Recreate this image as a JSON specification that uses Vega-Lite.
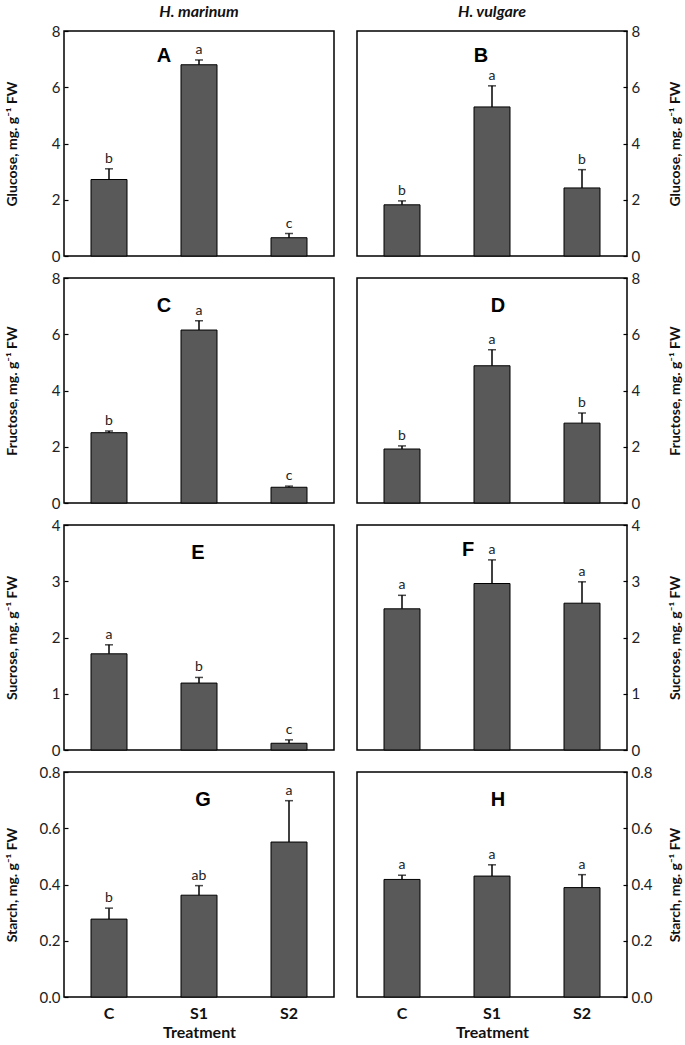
{
  "$schema": "https://vega.github.io/schema/vega-lite/v6.json",
  "padding": {"left": 4, "top": 3, "right": 2, "bottom": 2},
  "background": "white",
  "data": {"values": [
    {"panel": "A", "species": "H. marinum", "sugar": "Glucose", "treatment": "C", "mean": 2.72, "upper": 3.10, "letter": "b"},
    {"panel": "A", "species": "H. marinum", "sugar": "Glucose", "treatment": "S1", "mean": 6.80, "upper": 6.97, "letter": "a"},
    {"panel": "A", "species": "H. marinum", "sugar": "Glucose", "treatment": "S2", "mean": 0.65, "upper": 0.80, "letter": "c"},
    {"panel": "B", "species": "H. vulgare", "sugar": "Glucose", "treatment": "C", "mean": 1.82, "upper": 1.96, "letter": "b"},
    {"panel": "B", "species": "H. vulgare", "sugar": "Glucose", "treatment": "S1", "mean": 5.30, "upper": 6.05, "letter": "a"},
    {"panel": "B", "species": "H. vulgare", "sugar": "Glucose", "treatment": "S2", "mean": 2.42, "upper": 3.07, "letter": "b"},
    {"panel": "C", "species": "H. marinum", "sugar": "Fructose", "treatment": "C", "mean": 2.50, "upper": 2.56, "letter": "b"},
    {"panel": "C", "species": "H. marinum", "sugar": "Fructose", "treatment": "S1", "mean": 6.15, "upper": 6.48, "letter": "a"},
    {"panel": "C", "species": "H. marinum", "sugar": "Fructose", "treatment": "S2", "mean": 0.56, "upper": 0.60, "letter": "c"},
    {"panel": "D", "species": "H. vulgare", "sugar": "Fructose", "treatment": "C", "mean": 1.92, "upper": 2.03, "letter": "b"},
    {"panel": "D", "species": "H. vulgare", "sugar": "Fructose", "treatment": "S1", "mean": 4.88, "upper": 5.45, "letter": "a"},
    {"panel": "D", "species": "H. vulgare", "sugar": "Fructose", "treatment": "S2", "mean": 2.84, "upper": 3.20, "letter": "b"},
    {"panel": "E", "species": "H. marinum", "sugar": "Sucrose", "treatment": "C", "mean": 1.71, "upper": 1.87, "letter": "a"},
    {"panel": "E", "species": "H. marinum", "sugar": "Sucrose", "treatment": "S1", "mean": 1.19, "upper": 1.29, "letter": "b"},
    {"panel": "E", "species": "H. marinum", "sugar": "Sucrose", "treatment": "S2", "mean": 0.12, "upper": 0.18, "letter": "c"},
    {"panel": "F", "species": "H. vulgare", "sugar": "Sucrose", "treatment": "C", "mean": 2.51, "upper": 2.75, "letter": "a"},
    {"panel": "F", "species": "H. vulgare", "sugar": "Sucrose", "treatment": "S1", "mean": 2.96, "upper": 3.38, "letter": "a"},
    {"panel": "F", "species": "H. vulgare", "sugar": "Sucrose", "treatment": "S2", "mean": 2.61, "upper": 2.99, "letter": "a"},
    {"panel": "G", "species": "H. marinum", "sugar": "Starch", "treatment": "C", "mean": 0.277, "upper": 0.316, "letter": "b"},
    {"panel": "G", "species": "H. marinum", "sugar": "Starch", "treatment": "S1", "mean": 0.362, "upper": 0.396, "letter": "ab"},
    {"panel": "G", "species": "H. marinum", "sugar": "Starch", "treatment": "S2", "mean": 0.551, "upper": 0.698, "letter": "a"},
    {"panel": "H", "species": "H. vulgare", "sugar": "Starch", "treatment": "C", "mean": 0.418, "upper": 0.433, "letter": "a"},
    {"panel": "H", "species": "H. vulgare", "sugar": "Starch", "treatment": "S1", "mean": 0.430, "upper": 0.470, "letter": "a"},
    {"panel": "H", "species": "H. vulgare", "sugar": "Starch", "treatment": "S2", "mean": 0.389, "upper": 0.435, "letter": "a"}
  ]},
  "columns": 2,
  "spacing": {"row": 22, "column": 23},
  "bounds": "flush",
  "concat": [
    {
      "width": 270, "height": 225,
      "title": {"text": "H. marinum"},
      "transform": [{"filter": "datum.panel === 'A'"}],
      "encoding": {"x": {"field": "treatment", "type": "nominal", "sort": ["C", "S1", "S2"], "scale": {"paddingInner": 0.6, "paddingOuter": 0.3}, "axis": null}},
      "layer": [
        {"mark": {"type": "bar", "fill": "#595959", "stroke": "#000", "strokeWidth": 1}, "encoding": {"y": {"field": "mean", "type": "quantitative", "scale": {"domain": [0, 8], "nice": false}, "axis": {"orient": "left", "values": [0, 2, 4, 6, 8], "format": "d", "title": "Glucose, mg. g⁻¹ FW", "titleX": -45}}}},
        {"mark": {"type": "rule", "color": "#000", "strokeWidth": 1.5}, "encoding": {"y": {"field": "mean", "type": "quantitative"}, "y2": {"field": "upper"}}},
        {"mark": {"type": "tick", "color": "#000", "thickness": 1.5, "size": 8}, "encoding": {"y": {"field": "upper", "type": "quantitative"}}},
        {"mark": {"type": "text", "baseline": "bottom", "dy": -3, "fontSize": 14, "fill": "#222"}, "encoding": {"y": {"field": "upper", "type": "quantitative"}, "text": {"field": "letter"}}},
        {"transform": [{"filter": "datum.treatment === 'C'"}], "mark": {"type": "text", "font": "Liberation Sans", "fontSize": 20, "fontWeight": "bold", "fill": "#000", "baseline": "middle", "dx": -35}, "encoding": {"x": {"datum": "S1"}, "y": {"datum": 7.1}, "text": {"value": "A"}}}
      ]
    },
    {
      "width": 270, "height": 225,
      "title": {"text": "H. vulgare"},
      "transform": [{"filter": "datum.panel === 'B'"}],
      "encoding": {"x": {"field": "treatment", "type": "nominal", "sort": ["C", "S1", "S2"], "scale": {"paddingInner": 0.6, "paddingOuter": 0.3}, "axis": null}},
      "layer": [
        {"mark": {"type": "bar", "fill": "#595959", "stroke": "#000", "strokeWidth": 1}, "encoding": {"y": {"field": "mean", "type": "quantitative", "scale": {"domain": [0, 8], "nice": false}, "axis": {"orient": "right", "values": [0, 2, 4, 6, 8], "format": "d", "title": "Glucose, mg. g⁻¹ FW", "titleAngle": 270, "titleX": 55}}}},
        {"mark": {"type": "rule", "color": "#000", "strokeWidth": 1.5}, "encoding": {"y": {"field": "mean", "type": "quantitative"}, "y2": {"field": "upper"}}},
        {"mark": {"type": "tick", "color": "#000", "thickness": 1.5, "size": 8}, "encoding": {"y": {"field": "upper", "type": "quantitative"}}},
        {"mark": {"type": "text", "baseline": "bottom", "dy": -3, "fontSize": 14, "fill": "#222"}, "encoding": {"y": {"field": "upper", "type": "quantitative"}, "text": {"field": "letter"}}},
        {"transform": [{"filter": "datum.treatment === 'C'"}], "mark": {"type": "text", "font": "Liberation Sans", "fontSize": 20, "fontWeight": "bold", "fill": "#000", "baseline": "middle", "dx": -11}, "encoding": {"x": {"datum": "S1"}, "y": {"datum": 7.1}, "text": {"value": "B"}}}
      ]
    },
    {
      "width": 270, "height": 225,
      "transform": [{"filter": "datum.panel === 'C'"}],
      "encoding": {"x": {"field": "treatment", "type": "nominal", "sort": ["C", "S1", "S2"], "scale": {"paddingInner": 0.6, "paddingOuter": 0.3}, "axis": null}},
      "layer": [
        {"mark": {"type": "bar", "fill": "#595959", "stroke": "#000", "strokeWidth": 1}, "encoding": {"y": {"field": "mean", "type": "quantitative", "scale": {"domain": [0, 8], "nice": false}, "axis": {"orient": "left", "values": [0, 2, 4, 6, 8], "format": "d", "title": "Fructose, mg. g⁻¹ FW", "titleX": -45}}}},
        {"mark": {"type": "rule", "color": "#000", "strokeWidth": 1.5}, "encoding": {"y": {"field": "mean", "type": "quantitative"}, "y2": {"field": "upper"}}},
        {"mark": {"type": "tick", "color": "#000", "thickness": 1.5, "size": 8}, "encoding": {"y": {"field": "upper", "type": "quantitative"}}},
        {"mark": {"type": "text", "baseline": "bottom", "dy": -3, "fontSize": 14, "fill": "#222"}, "encoding": {"y": {"field": "upper", "type": "quantitative"}, "text": {"field": "letter"}}},
        {"transform": [{"filter": "datum.treatment === 'C'"}], "mark": {"type": "text", "font": "Liberation Sans", "fontSize": 20, "fontWeight": "bold", "fill": "#000", "baseline": "middle", "dx": -35}, "encoding": {"x": {"datum": "S1"}, "y": {"datum": 7.0}, "text": {"value": "C"}}}
      ]
    },
    {
      "width": 270, "height": 225,
      "transform": [{"filter": "datum.panel === 'D'"}],
      "encoding": {"x": {"field": "treatment", "type": "nominal", "sort": ["C", "S1", "S2"], "scale": {"paddingInner": 0.6, "paddingOuter": 0.3}, "axis": null}},
      "layer": [
        {"mark": {"type": "bar", "fill": "#595959", "stroke": "#000", "strokeWidth": 1}, "encoding": {"y": {"field": "mean", "type": "quantitative", "scale": {"domain": [0, 8], "nice": false}, "axis": {"orient": "right", "values": [0, 2, 4, 6, 8], "format": "d", "title": "Fructose, mg. g⁻¹ FW", "titleAngle": 270, "titleX": 55}}}},
        {"mark": {"type": "rule", "color": "#000", "strokeWidth": 1.5}, "encoding": {"y": {"field": "mean", "type": "quantitative"}, "y2": {"field": "upper"}}},
        {"mark": {"type": "tick", "color": "#000", "thickness": 1.5, "size": 8}, "encoding": {"y": {"field": "upper", "type": "quantitative"}}},
        {"mark": {"type": "text", "baseline": "bottom", "dy": -3, "fontSize": 14, "fill": "#222"}, "encoding": {"y": {"field": "upper", "type": "quantitative"}, "text": {"field": "letter"}}},
        {"transform": [{"filter": "datum.treatment === 'C'"}], "mark": {"type": "text", "font": "Liberation Sans", "fontSize": 20, "fontWeight": "bold", "fill": "#000", "baseline": "middle", "dx": 6}, "encoding": {"x": {"datum": "S1"}, "y": {"datum": 7.0}, "text": {"value": "D"}}}
      ]
    },
    {
      "width": 270, "height": 225,
      "transform": [{"filter": "datum.panel === 'E'"}],
      "encoding": {"x": {"field": "treatment", "type": "nominal", "sort": ["C", "S1", "S2"], "scale": {"paddingInner": 0.6, "paddingOuter": 0.3}, "axis": null}},
      "layer": [
        {"mark": {"type": "bar", "fill": "#595959", "stroke": "#000", "strokeWidth": 1}, "encoding": {"y": {"field": "mean", "type": "quantitative", "scale": {"domain": [0, 4], "nice": false}, "axis": {"orient": "left", "values": [0, 1, 2, 3, 4], "format": "d", "title": "Sucrose, mg. g⁻¹ FW", "titleX": -45}}}},
        {"mark": {"type": "rule", "color": "#000", "strokeWidth": 1.5}, "encoding": {"y": {"field": "mean", "type": "quantitative"}, "y2": {"field": "upper"}}},
        {"mark": {"type": "tick", "color": "#000", "thickness": 1.5, "size": 8}, "encoding": {"y": {"field": "upper", "type": "quantitative"}}},
        {"mark": {"type": "text", "baseline": "bottom", "dy": -3, "fontSize": 14, "fill": "#222"}, "encoding": {"y": {"field": "upper", "type": "quantitative"}, "text": {"field": "letter"}}},
        {"transform": [{"filter": "datum.treatment === 'C'"}], "mark": {"type": "text", "font": "Liberation Sans", "fontSize": 20, "fontWeight": "bold", "fill": "#000", "baseline": "middle", "dx": -1}, "encoding": {"x": {"datum": "S1"}, "y": {"datum": 3.5}, "text": {"value": "E"}}}
      ]
    },
    {
      "width": 270, "height": 225,
      "transform": [{"filter": "datum.panel === 'F'"}],
      "encoding": {"x": {"field": "treatment", "type": "nominal", "sort": ["C", "S1", "S2"], "scale": {"paddingInner": 0.6, "paddingOuter": 0.3}, "axis": null}},
      "layer": [
        {"mark": {"type": "bar", "fill": "#595959", "stroke": "#000", "strokeWidth": 1}, "encoding": {"y": {"field": "mean", "type": "quantitative", "scale": {"domain": [0, 4], "nice": false}, "axis": {"orient": "right", "values": [0, 1, 2, 3, 4], "format": "d", "title": "Sucrose, mg. g⁻¹ FW", "titleAngle": 270, "titleX": 55}}}},
        {"mark": {"type": "rule", "color": "#000", "strokeWidth": 1.5}, "encoding": {"y": {"field": "mean", "type": "quantitative"}, "y2": {"field": "upper"}}},
        {"mark": {"type": "tick", "color": "#000", "thickness": 1.5, "size": 8}, "encoding": {"y": {"field": "upper", "type": "quantitative"}}},
        {"mark": {"type": "text", "baseline": "bottom", "dy": -3, "fontSize": 14, "fill": "#222"}, "encoding": {"y": {"field": "upper", "type": "quantitative"}, "text": {"field": "letter"}}},
        {"transform": [{"filter": "datum.treatment === 'C'"}], "mark": {"type": "text", "font": "Liberation Sans", "fontSize": 20, "fontWeight": "bold", "fill": "#000", "baseline": "middle", "dx": -24}, "encoding": {"x": {"datum": "S1"}, "y": {"datum": 3.56}, "text": {"value": "F"}}}
      ]
    },
    {
      "width": 270, "height": 225,
      "transform": [{"filter": "datum.panel === 'G'"}],
      "encoding": {"x": {"field": "treatment", "type": "nominal", "sort": ["C", "S1", "S2"], "scale": {"paddingInner": 0.6, "paddingOuter": 0.3}, "axis": {"orient": "bottom", "labelAngle": 0, "labelFontSize": 16, "labelFontWeight": "bold", "labelColor": "#111", "ticks": false, "domain": false, "labelPadding": 8, "title": "Treatment", "titleFontSize": 16, "titleFontWeight": "bold", "titlePadding": 3}}},
      "layer": [
        {"mark": {"type": "bar", "fill": "#595959", "stroke": "#000", "strokeWidth": 1}, "encoding": {"y": {"field": "mean", "type": "quantitative", "scale": {"domain": [0, 0.8], "nice": false}, "axis": {"orient": "left", "values": [0, 0.2, 0.4, 0.6, 0.8], "format": ".1f", "title": "Starch, mg. g⁻¹ FW", "titleX": -45}}}},
        {"mark": {"type": "rule", "color": "#000", "strokeWidth": 1.5}, "encoding": {"y": {"field": "mean", "type": "quantitative"}, "y2": {"field": "upper"}}},
        {"mark": {"type": "tick", "color": "#000", "thickness": 1.5, "size": 8}, "encoding": {"y": {"field": "upper", "type": "quantitative"}}},
        {"mark": {"type": "text", "baseline": "bottom", "dy": -3, "fontSize": 14, "fill": "#222"}, "encoding": {"y": {"field": "upper", "type": "quantitative"}, "text": {"field": "letter"}}},
        {"transform": [{"filter": "datum.treatment === 'C'"}], "mark": {"type": "text", "font": "Liberation Sans", "fontSize": 20, "fontWeight": "bold", "fill": "#000", "baseline": "middle", "dx": 4}, "encoding": {"x": {"datum": "S1"}, "y": {"datum": 0.70}, "text": {"value": "G"}}}
      ]
    },
    {
      "width": 270, "height": 225,
      "transform": [{"filter": "datum.panel === 'H'"}],
      "encoding": {"x": {"field": "treatment", "type": "nominal", "sort": ["C", "S1", "S2"], "scale": {"paddingInner": 0.6, "paddingOuter": 0.3}, "axis": {"orient": "bottom", "labelAngle": 0, "labelFontSize": 16, "labelFontWeight": "bold", "labelColor": "#111", "ticks": false, "domain": false, "labelPadding": 8, "title": "Treatment", "titleFontSize": 16, "titleFontWeight": "bold", "titlePadding": 3}}},
      "layer": [
        {"mark": {"type": "bar", "fill": "#595959", "stroke": "#000", "strokeWidth": 1}, "encoding": {"y": {"field": "mean", "type": "quantitative", "scale": {"domain": [0, 0.8], "nice": false}, "axis": {"orient": "right", "values": [0, 0.2, 0.4, 0.6, 0.8], "format": ".1f", "title": "Starch, mg. g⁻¹ FW", "titleAngle": 270, "titleX": 55}}}},
        {"mark": {"type": "rule", "color": "#000", "strokeWidth": 1.5}, "encoding": {"y": {"field": "mean", "type": "quantitative"}, "y2": {"field": "upper"}}},
        {"mark": {"type": "tick", "color": "#000", "thickness": 1.5, "size": 8}, "encoding": {"y": {"field": "upper", "type": "quantitative"}}},
        {"mark": {"type": "text", "baseline": "bottom", "dy": -3, "fontSize": 14, "fill": "#222"}, "encoding": {"y": {"field": "upper", "type": "quantitative"}, "text": {"field": "letter"}}},
        {"transform": [{"filter": "datum.treatment === 'C'"}], "mark": {"type": "text", "font": "Liberation Sans", "fontSize": 20, "fontWeight": "bold", "fill": "#000", "baseline": "middle", "dx": 6}, "encoding": {"x": {"datum": "S1"}, "y": {"datum": 0.70}, "text": {"value": "H"}}}
      ]
    }
  ],
  "config": {
    "font": "Lato",
    "view": {"stroke": "#000", "strokeWidth": 1.5},
    "axis": {"labelFont": "Lato", "titleFont": "Lato", "labelFontSize": 15, "labelColor": "#222", "titleFontSize": 14, "titleFontWeight": "bold", "titleColor": "#111", "ticks": true, "tickSize": -4, "tickColor": "#000", "tickWidth": 1.2, "domain": false, "grid": false, "labelPadding": 8},
    "title": {"font": "Lato", "fontSize": 16, "fontStyle": "italic", "fontWeight": "bold", "color": "#111", "offset": 4, "anchor": "middle"},
    "text": {"font": "Lato"}
  }
}
